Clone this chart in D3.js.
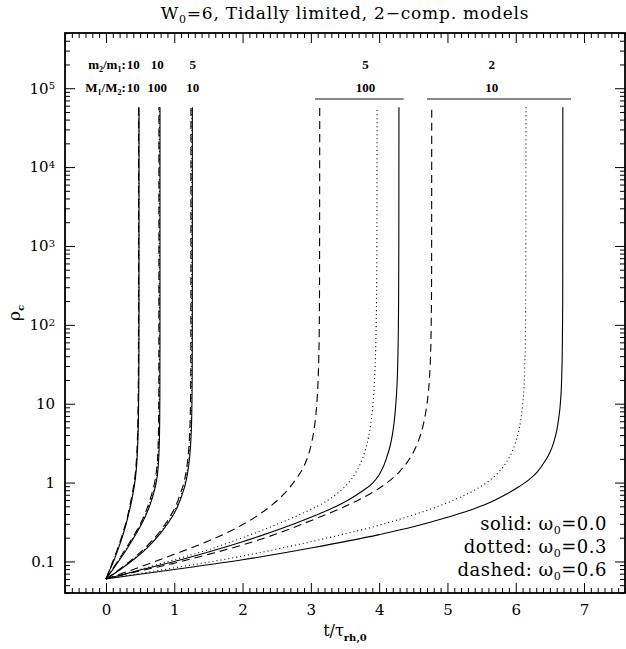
<!DOCTYPE html>
<html>
<head>
<meta charset="utf-8">
<script src="https://cdn.jsdelivr.net/npm/d3@7"></script>
<style>
  body { margin: 0; background: #fff; }
  svg { display: block; }
</style>
</head>
<body>
<div class="chartDiv"></div>
<script>
// rho_c against t / tau_rh,0
// group 1: m2/m1 = 10, M1/M2 = 10
var g1Solid  = [[0,0.06],[0.05,0.076],[0.1,0.095],[0.15,0.123],[0.2,0.162],[0.25,0.219],[0.3,0.309],[0.34,0.427],[0.38,0.617],[0.41,0.851],[0.43,1.12],[0.447,1.58],[0.46,2.4],[0.469,3.8],[0.475,6.61],[0.479,12.6],[0.482,31.6],[0.4835,126],[0.484,57500]];
var g1Dotted = [[0,0.06],[0.05,0.077],[0.1,0.097],[0.15,0.126],[0.2,0.166],[0.25,0.224],[0.3,0.316],[0.34,0.44],[0.377,0.63],[0.407,0.87],[0.427,1.15],[0.444,1.6],[0.457,2.45],[0.466,3.9],[0.472,6.8],[0.476,12.9],[0.479,32],[0.4805,130],[0.481,57500]];
var g1Dashed = [[0,0.06],[0.05,0.078],[0.1,0.1],[0.15,0.13],[0.2,0.172],[0.25,0.234],[0.3,0.33],[0.34,0.46],[0.374,0.65],[0.403,0.89],[0.423,1.17],[0.44,1.63],[0.453,2.5],[0.462,4],[0.468,7],[0.472,13.3],[0.475,33],[0.4765,135],[0.477,57500]];
// group 2: m2/m1 = 10, M1/M2 = 100
var g2Solid  = [[0,0.06],[0.1,0.079],[0.2,0.105],[0.3,0.141],[0.4,0.195],[0.5,0.275],[0.58,0.38],[0.65,0.537],[0.7,0.741],[0.735,1.0],[0.758,1.38],[0.772,2.0],[0.781,3.16],[0.786,5.62],[0.789,12.6],[0.7905,50],[0.791,57500]];
var g2Dotted = [[0,0.06],[0.1,0.08],[0.2,0.107],[0.3,0.145],[0.4,0.2],[0.5,0.285],[0.58,0.395],[0.645,0.56],[0.694,0.77],[0.728,1.04],[0.75,1.42],[0.764,2.05],[0.773,3.2],[0.778,5.7],[0.781,12.8],[0.7825,51],[0.783,57500]];
var g2Dashed = [[0,0.06],[0.1,0.081],[0.2,0.11],[0.3,0.15],[0.4,0.208],[0.5,0.297],[0.575,0.41],[0.638,0.58],[0.686,0.8],[0.72,1.08],[0.742,1.47],[0.756,2.1],[0.765,3.3],[0.77,5.8],[0.773,13],[0.7745,52],[0.775,57500]];
// group 3: m2/m1 = 5, M1/M2 = 10
var g3Solid  = [[0,0.06],[0.2,0.078],[0.4,0.105],[0.6,0.148],[0.8,0.229],[0.95,0.347],[1.05,0.5],[1.12,0.724],[1.17,1.02],[1.2,1.41],[1.225,2.09],[1.242,3.31],[1.253,5.62],[1.259,10.5],[1.263,28.2],[1.2645,126],[1.265,57500]];
var g3Dotted = [[0,0.06],[0.2,0.079],[0.4,0.107],[0.6,0.152],[0.8,0.236],[0.945,0.357],[1.043,0.515],[1.112,0.745],[1.162,1.05],[1.192,1.45],[1.217,2.15],[1.234,3.4],[1.245,5.8],[1.251,10.8],[1.255,29],[1.2565,130],[1.257,57500]];
var g3Dashed = [[0,0.06],[0.2,0.08],[0.4,0.109],[0.6,0.157],[0.79,0.24],[0.935,0.367],[1.032,0.53],[1.1,0.77],[1.15,1.08],[1.18,1.5],[1.204,2.2],[1.221,3.5],[1.232,6],[1.238,11],[1.242,30],[1.2435,135],[1.244,57500]];
// group 4: m2/m1 = 5, M1/M2 = 100
var g4Solid  = [[0,0.06],[0.5,0.078],[1,0.1],[1.5,0.132],[2,0.178],[2.5,0.248],[3,0.363],[3.3,0.468],[3.55,0.603],[3.75,0.776],[3.9,0.977],[4.0,1.26],[4.07,1.66],[4.13,2.34],[4.175,3.31],[4.21,5.01],[4.235,7.94],[4.253,12.6],[4.267,22.4],[4.277,50],[4.284,158],[4.288,1000],[4.29,57500]];
var g4Dotted = [[0,0.06],[0.5,0.079],[1,0.105],[1.5,0.141],[2,0.2],[2.5,0.295],[2.8,0.38],[3,0.457],[3.2,0.562],[3.37,0.708],[3.5,0.891],[3.6,1.12],[3.68,1.45],[3.75,1.95],[3.8,2.63],[3.845,3.8],[3.88,5.75],[3.905,8.91],[3.925,15.1],[3.94,28.2],[3.952,63],[3.961,200],[3.967,1000],[3.97,57500]];
var g4Dashed = [[0,0.06],[0.5,0.085],[1,0.123],[1.5,0.182],[1.9,0.263],[2.2,0.372],[2.45,0.537],[2.6,0.708],[2.72,0.933],[2.82,1.23],[2.9,1.62],[2.96,2.19],[3.01,3.16],[3.045,4.57],[3.07,6.76],[3.09,10.7],[3.105,18.6],[3.116,38],[3.123,89],[3.127,316],[3.13,57500]];
// group 5: m2/m1 = 2, M1/M2 = 10
var g5Solid  = [[0,0.06],[1,0.079],[2,0.105],[3,0.148],[4,0.219],[4.5,0.275],[5,0.363],[5.4,0.468],[5.7,0.603],[5.9,0.741],[6.05,0.891],[6.2,1.1],[6.32,1.38],[6.42,1.82],[6.5,2.4],[6.56,3.31],[6.6,4.57],[6.63,6.61],[6.655,10.5],[6.672,20],[6.682,50],[6.688,200],[6.69,57500]];
var g5Dotted = [[0,0.06],[1,0.083],[2,0.117],[3,0.178],[3.5,0.224],[4,0.288],[4.5,0.389],[4.9,0.513],[5.2,0.661],[5.45,0.851],[5.62,1.07],[5.75,1.35],[5.85,1.74],[5.93,2.29],[5.99,3.09],[6.04,4.37],[6.075,6.31],[6.1,9.55],[6.12,15.8],[6.133,31.6],[6.142,79],[6.147,316],[6.15,57500]];
var g5Dashed = [[0,0.06],[0.5,0.076],[1,0.095],[1.5,0.123],[2,0.162],[2.5,0.224],[3,0.329],[3.4,0.457],[3.7,0.603],[3.95,0.794],[4.15,1.05],[4.3,1.38],[4.42,1.86],[4.51,2.51],[4.58,3.47],[4.64,5.13],[4.68,7.59],[4.71,11.5],[4.735,20],[4.752,39.8],[4.762,100],[4.768,398],[4.77,57500]];

var curveSets   = [g1Solid, g1Dotted, g1Dashed, g2Solid, g2Dotted, g2Dashed, g3Solid, g3Dotted, g3Dashed,
                   g4Solid, g4Dotted, g4Dashed, g5Solid, g5Dotted, g5Dashed];
var curveStyles = ["solid","dotted","dashed","solid","dotted","dashed","solid","dotted","dashed",
                   "solid","dotted","dashed","solid","dotted","dashed"];

// ratio labels above the curves
var ratioLabels = ["10","10","5","5","2"];
var massLabels  = ["10","100","10","100","10"];
var labelT      = [0.40, 0.75, 1.27, 3.80, 5.65];
var prefixT     = 0.29;
var ratioRho    = 1.75e5;
var massRho     = 9.0e4;
// grey bars grouping the slow models
var barStart    = [3.06, 4.70];
var barEnd      = [4.36, 6.81];
var barRho      = 7.3e4;

// axes
var xMajor      = [0, 1, 2, 3, 4, 5, 6, 7];
var yDecades    = [0.1, 1, 10, 100, 1e3, 1e4, 1e5];
var yLabelBase  = ["0.1", "1", "10", "10", "10", "10", "10"];
var yLabelPow   = ["", "", "", "2", "3", "4", "5"];

// legend
var legendNames = ["solid", "dotted", "dashed"];
var legendOmega = ["0.0", "0.3", "0.6"];

(function(){
  var width  = 626,
      height = 649,
      margin = {top: 33, right: 1, bottom: 56, left: 65},
      serif  = "'DejaVu Serif', serif",
      small  = "'Liberation Serif', serif";

  var svg = d3.select(".chartDiv").append("svg")
              .attr("width", width).attr("height", height);

  var x = d3.scaleLinear().domain([-0.6, 7.6]).range([margin.left, width - margin.right]);
  var y = d3.scaleLog().domain([Math.pow(10, -1.4), Math.pow(10, 5.7)]).range([height - margin.bottom, margin.top]);

  var x0 = x.range()[0], x1 = x.range()[1], y0 = y.range()[0], y1 = y.range()[1];

  var xMinor = d3.range(-6, 77).filter(function(i){ return i % 10 !== 0; }).map(function(i){ return i / 10; });
  var yMinor = [];
  for(var e = -2; e <= 5; e++){
    for(var k = 2; k <= 9; k++){
      var v = k * Math.pow(10, e);
      if(v > y.domain()[0] && v < y.domain()[1]) yMinor.push(v);
    }
  }

  var tickStyle = function(g){
    g.select(".domain").remove();
    g.selectAll(".tick line").attr("stroke", "#000").attr("stroke-width", 1);
  };

  // bottom / top
  svg.append("g").attr("transform", "translate(0," + y0 + ")")
     .call(d3.axisBottom(x).tickValues(xMinor).tickSize(-5).tickFormat("")).call(tickStyle);
  var xAxis = svg.append("g").attr("transform", "translate(0," + y0 + ")")
     .call(d3.axisBottom(x).tickValues(xMajor).tickSize(-10).tickPadding(11).tickFormat(d3.format("d")))
     .call(tickStyle);
  xAxis.selectAll("text").attr("font-family", serif).attr("font-size", 15).attr("fill", "#000");
  svg.append("g").attr("transform", "translate(0," + y1 + ")")
     .call(d3.axisTop(x).tickValues(xMinor).tickSize(-5).tickFormat("")).call(tickStyle);
  svg.append("g").attr("transform", "translate(0," + y1 + ")")
     .call(d3.axisTop(x).tickValues(xMajor).tickSize(-10).tickFormat("")).call(tickStyle);

  // left / right
  svg.append("g").attr("transform", "translate(" + x0 + ",0)")
     .call(d3.axisLeft(y).tickValues(yMinor).tickSize(-5).tickFormat("")).call(tickStyle);
  var yAxis = svg.append("g").attr("transform", "translate(" + x0 + ",0)")
     .call(d3.axisLeft(y).tickValues(yDecades).tickSize(-10).tickPadding(10).tickFormat(""))
     .call(tickStyle);
  yAxis.selectAll(".tick text").each(function(d, i){
    var t = d3.select(this).attr("font-family", serif).attr("font-size", 15).attr("fill", "#000");
    t.append("tspan").text(yLabelBase[i]);
    if(yLabelPow[i]) t.append("tspan").attr("dy", "-0.45em").attr("font-size", 10).text(yLabelPow[i]);
  });
  svg.append("g").attr("transform", "translate(" + x1 + ",0)")
     .call(d3.axisRight(y).tickValues(yMinor).tickSize(-5).tickFormat("")).call(tickStyle);
  svg.append("g").attr("transform", "translate(" + x1 + ",0)")
     .call(d3.axisRight(y).tickValues(yDecades).tickSize(-10).tickFormat("")).call(tickStyle);

  // frame
  svg.append("rect").attr("x", x0).attr("y", y1).attr("width", x1 - x0).attr("height", y0 - y1)
     .attr("fill", "none").attr("stroke", "#000").attr("stroke-width", 1.8);

  // curves
  var line = d3.line().x(function(d){ return x(d[0]); }).y(function(d){ return y(d[1]); })
               .curve(d3.curveMonotoneX);
  var dashFor = {solid: null, dotted: "1,3", dashed: "8,5"};
  svg.append("g").selectAll("path").data(curveSets).enter().append("path")
     .attr("d", line)
     .attr("fill", "none").attr("stroke", "#000").attr("stroke-width", 1.1)
     .attr("stroke-dasharray", function(d, i){ return dashFor[curveStyles[i]]; });

  // grey bars
  svg.append("g").selectAll("line").data(barStart).enter().append("line")
     .attr("x1", function(d){ return x(d); }).attr("x2", function(d, i){ return x(barEnd[i]); })
     .attr("y1", y(barRho)).attr("y2", y(barRho))
     .attr("stroke", "#888").attr("stroke-width", 2);

  // ratio labels
  var rowLabel = function(rho, a, b, vals){
    var t = svg.append("text").attr("x", x(prefixT)).attr("y", y(rho)).attr("text-anchor", "end")
               .attr("font-family", small).attr("font-size", 13).attr("font-weight", "bold");
    t.append("tspan").text(a[0]);
    t.append("tspan").attr("dy", 3).attr("font-size", 8).text(a[1]);
    t.append("tspan").attr("dy", -3).text("/" + b[0]);
    t.append("tspan").attr("dy", 3).attr("font-size", 8).text(b[1]);
    t.append("tspan").attr("dy", -3).text(":");
    svg.append("g").selectAll("text").data(vals).enter().append("text")
       .attr("x", function(d, i){ return x(labelT[i]); }).attr("y", y(rho))
       .attr("text-anchor", "middle").attr("font-family", small).attr("font-size", 13)
       .attr("font-weight", "bold").text(function(d){ return d; });
  };
  rowLabel(ratioRho, ["m", "2"], ["m", "1"], ratioLabels);
  rowLabel(massRho, ["M", "1"], ["M", "2"], massLabels);

  // legend
  legendNames.forEach(function(name, i){
    var t = svg.append("text").attr("x", 607).attr("y", 530 + i * 23).attr("text-anchor", "end")
               .attr("font-family", serif).attr("font-size", 18).attr("letter-spacing", 0.5);
    t.append("tspan").text(name + ": \u03c9");
    t.append("tspan").attr("dy", 4).attr("font-size", 11).text("0");
    t.append("tspan").attr("dy", -4).text("=" + legendOmega[i]);
  });

  // title
  var title = svg.append("text").attr("x", (x0 + x1) / 2).attr("y", 19).attr("text-anchor", "middle")
                 .attr("font-family", serif).attr("font-size", 17).attr("letter-spacing", 0.8);
  title.append("tspan").text("W");
  title.append("tspan").attr("dy", 4).attr("font-size", 11).text("0");
  title.append("tspan").attr("dy", -4).text("=6, Tidally limited, 2\u2212comp. models");

  // axis titles
  var xt = svg.append("text").attr("x", (x0 + x1) / 2).attr("y", 636).attr("text-anchor", "middle")
              .attr("font-family", serif).attr("font-size", 16);
  xt.append("tspan").text("t/\u03c4");
  xt.append("tspan").attr("dy", 5).attr("font-size", 10).attr("font-weight", "bold").text("rh,0");

  var yt = svg.append("text").attr("transform", "translate(20," + ((y0 + y1) / 2) + ") rotate(-90)")
              .attr("text-anchor", "middle").attr("font-family", serif).attr("font-size", 17);
  yt.append("tspan").text("\u03c1");
  yt.append("tspan").attr("dy", 4).attr("font-size", 10).attr("font-weight", "bold").text("c");
})();
</script>
</body>
</html>
